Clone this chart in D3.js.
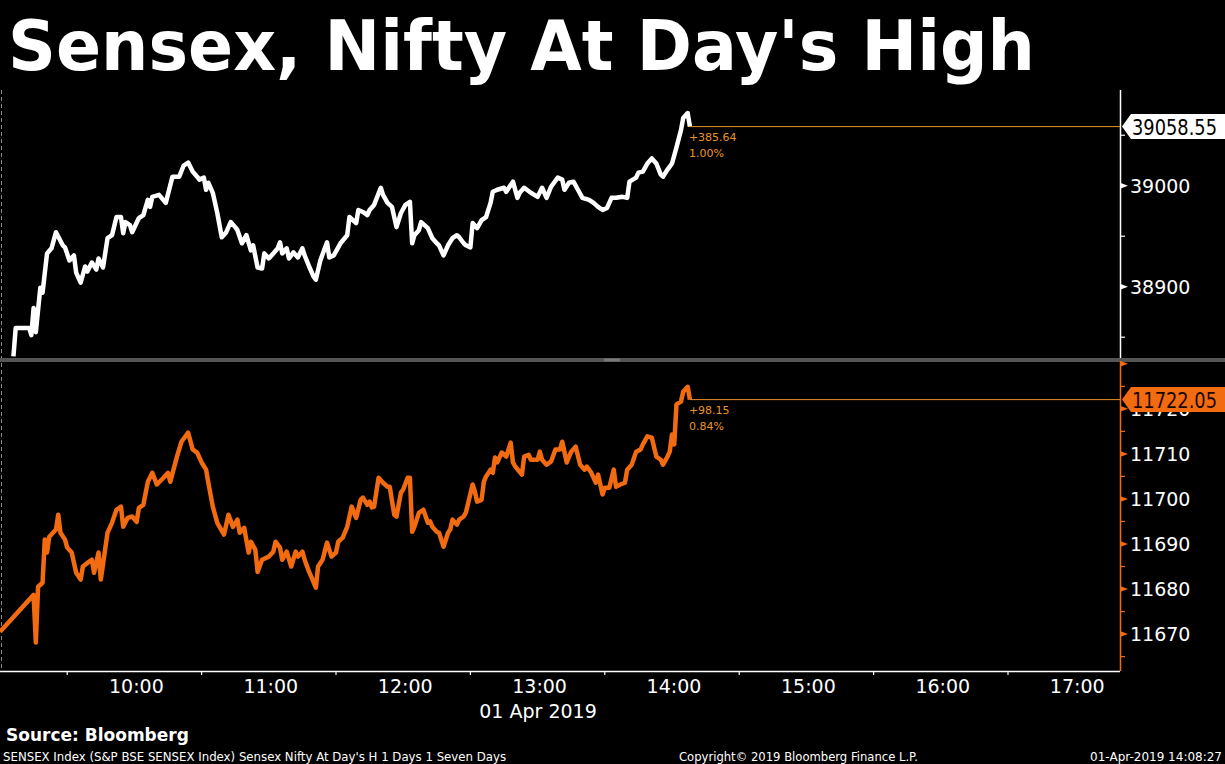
<!DOCTYPE html>
<html>
<head>
<meta charset="utf-8">
<script src="https://cdn.jsdelivr.net/npm/d3@7"></script>
<style>
  body { margin: 0; background: #000; }
  svg { display: block; }
  text { font-family: "DejaVu Sans", Verdana, sans-serif; }
</style>
</head>
<body>
<div id="chart"></div>
<script>
// ---- data: minutes after 09:00 IST, 01 Apr 2019 ----
var sensexMin = [6,7,13,14,15,16,18,19,21,23,25,28,29,31,33,34,36,38,39,41,43,44,46,48,50,52,54,55,56,58,59,62,64,66,67,68,71,74,77,80,82,84,86,88,89,91,92,93,95,97,99,101,103,105,106,108,110,112,113,115,117,118,120,122,124,125,126,128,129,131,133,135,136,138,140,141,143,146,147,149,152,155,156,159,160,162,164,165,167,170,171,173,175,177,179,181,183,184,185,187,188,191,193,195,196,198,200,202,204,205,207,208,210,211,213,215,217,219,220,222,225,226,229,231,232,234,237,240,242,244,246,249,251,252,254,256,258,260,263,265,267,269,271,273,275,278,280,281,284,285,287,289,291,293,295,296,298,300,302,304,305,307,308];
var sensexVal = [38831,38859,38859,38852,38879,38855,38899,38894,38933,38938,38954,38941,38939,38926,38931,38914,38904,38920,38915,38924,38917,38928,38919,38948,38951,38969,38969,38953,38964,38961,38954,38968,38971,38986,38979,38989,38991,38983,39009,39009,39020,39023,39014,39009,39006,39008,38996,39003,38993,38973,38949,38954,38964,38959,38956,38943,38951,38936,38941,38919,38918,38933,38928,38933,38938,38944,38933,38938,38928,38934,38929,38938,38931,38920,38910,38907,38926,38944,38929,38931,38943,38951,38969,38963,38976,38974,38971,38976,38981,38998,38991,38983,38979,38959,38973,38981,38984,38943,38951,38956,38964,38958,38948,38943,38941,38931,38941,38948,38951,38949,38943,38941,38939,38963,38958,38966,38969,38983,38994,38996,38998,38994,39004,38988,38993,38998,38993,38989,38998,38988,38999,39008,39006,38996,39003,39004,38996,38988,38986,38983,38979,38976,38978,38988,38988,38989,38988,39004,39008,39013,39014,39022,39027,39022,39011,39009,39016,39022,39038,39055,39067,39072,39058.55];

var niftyMin = [0,15,16,17,19,20,21,22,25,26,27,29,30,32,34,36,37,39,41,42,44,45,48,50,52,54,55,57,59,61,62,64,66,68,70,73,75,76,79,81,84,86,88,90,92,93,95,97,100,102,104,106,107,109,111,112,114,115,117,120,122,123,125,126,128,130,132,133,135,136,138,139,141,142,144,146,148,150,151,153,155,157,159,161,162,164,165,166,167,169,171,173,174,176,177,179,180,182,183,184,185,187,189,191,192,193,195,196,198,199,200,201,202,204,205,207,208,211,212,213,215,216,217,219,220,221,222,224,226,228,229,230,233,234,236,237,240,241,242,244,246,248,250,251,253,255,257,259,261,262,264,266,267,269,270,272,274,275,277,279,280,282,284,286,287,289,291,293,295,296,298,299,300,301,302,304,305,307,308];
var niftyVal = [11670.5,11678.7,11668.1,11680.5,11681.4,11691,11688.1,11691.6,11693.2,11696.5,11692.5,11691,11689.2,11688.1,11683.6,11682.1,11685,11685.8,11686.5,11683.6,11688.1,11682.1,11692.5,11694.7,11697.6,11698.3,11693.8,11695.8,11696.1,11694.9,11698,11698.7,11703.8,11705.8,11703.2,11704.7,11705.8,11703.8,11709.4,11712.7,11714.7,11711,11710.3,11708.1,11706.5,11703.6,11698.3,11694.7,11692.1,11696.5,11693.8,11695.4,11692.5,11693.6,11688.1,11690.5,11688.7,11683.8,11686.5,11687.2,11688.3,11690.5,11689.2,11686.5,11688.3,11685,11688.3,11687.2,11688.3,11686.5,11683.8,11682.7,11680.3,11685,11686.5,11690.3,11687.2,11688.1,11690.5,11691.4,11693.8,11698.3,11695.8,11699.8,11700.3,11698.7,11699.4,11698.1,11698.3,11704.7,11703.6,11702.7,11702.7,11696.5,11696.1,11701.4,11702.1,11704.7,11704.7,11692.7,11693.8,11696.9,11697.6,11694.7,11695,11693.8,11692.7,11692.5,11689.4,11690.9,11692.5,11693.2,11695.4,11694.3,11695.4,11696.1,11697,11703.2,11701.6,11699.4,11699.8,11703.8,11705,11706.5,11705.8,11709.2,11708.1,11710.3,11709.4,11712.5,11708.1,11707.2,11705.4,11709.4,11709.8,11708.7,11708.7,11710.5,11708.7,11707.6,11708.3,11711,11711,11712.7,11708.1,11710.5,11711.6,11707.6,11706.5,11707.2,11705.8,11703.6,11705.4,11701,11702.5,11702.5,11706.5,11702.7,11703.2,11703.6,11706.5,11707.6,11710.5,11711,11712.1,11713.9,11713.6,11709.4,11708.7,11707.6,11709.4,11710.5,11714.3,11712.1,11721,11721.6,11723.8,11724.9,11722.05];

// last values and change vs previous close
var sensexLast = "39058.55", sensexChg = "+385.64", sensexPct = "1.00%";
var niftyLast = "11722.05", niftyChg = "+98.15", niftyPct = "0.84%";

// axis tick values
var sensexTicks = [38900, 39000, 39100];
var sensexMinor = [38850, 38950, 39050];
var niftyTicks = [11670, 11680, 11690, 11700, 11710, 11720, 11730];
var niftyMinor = [11665, 11675, 11685, 11695, 11705, 11715, 11725];
var hourLabels = [10, 11, 12, 13, 14, 15, 16, 17];

// ---- layout config ----
var W = 1225, H = 764;
var plotRight = 1120;
var top0 = 90, top1 = 358;     // sensex panel
var bot0 = 362, bot1 = 671;    // nifty panel
var orange = "#f26b10";
var amber = "#e8942a";

var base = new Date(2019, 3, 1, 9, 0);
function tm(m) { return new Date(base.getTime() + m * 60000); }

var svg = d3.select("#chart").append("svg")
            .attr("width", W)
            .attr("height", H)
            .style("background", "#000");

var x = d3.scaleTime()
          .domain([tm(0), tm(500)])
          .range([0, plotRight]);

var yTop = d3.scaleLinear()
             .domain([38829.4, 39094.8])
             .range([top1, top0]);

var yBot = d3.scaleLinear()
             .domain([11661.8, 11730.4])
             .range([bot1, bot0]);

// clip each panel
var defs = svg.append("defs");
defs.append("clipPath").attr("id", "clipTop")
    .append("rect").attr("x", 0).attr("y", top0).attr("width", plotRight).attr("height", top1 - top0);
defs.append("clipPath").attr("id", "clipBot")
    .append("rect").attr("x", 0).attr("y", bot0).attr("width", plotRight).attr("height", bot1 - bot0);

// title
svg.append("text")
   .attr("x", 8)
   .attr("y", 70)
   .attr("textLength", 1027)
   .attr("lengthAdjust", "spacingAndGlyphs")
   .style("font-size", "70px")
   .style("font-weight", "bold")
   .style("fill", "#fff")
   .text("Sensex, Nifty At Day's High");

// left dashed edges
svg.append("line")
   .attr("x1", 1.5).attr("x2", 1.5).attr("y1", top0).attr("y2", bot1)
   .style("stroke", "#8a8a8a").style("stroke-width", 1).style("stroke-dasharray", "4,3");

// panel divider
svg.append("rect")
   .attr("x", 0).attr("y", top1).attr("width", W).attr("height", bot0 - top1)
   .style("fill", "#555");
svg.append("line")
   .attr("x1", 604).attr("x2", 620).attr("y1", top1 + 1.2).attr("y2", top1 + 1.2)
   .style("stroke", "#999").style("stroke-width", 0.8);
svg.append("line")
   .attr("x1", 604).attr("x2", 620).attr("y1", top1 + 2.8).attr("y2", top1 + 2.8)
   .style("stroke", "#999").style("stroke-width", 0.8);

/********************************
 * y axis for a panel
 *********************************/
function drawYAxis(scale, y0, y1, majors, minors, color) {
    var g = svg.append("g");
    g.append("line")
     .attr("x1", plotRight + 0.5).attr("x2", plotRight + 0.5)
     .attr("y1", y0).attr("y2", y1)
     .style("stroke", color).style("stroke-width", 1.5);

    var inside = majors.filter(function(d) { var p = scale(d); return p >= y0 && p <= y1; });

    // triangle markers at major ticks
    g.selectAll("path.major")
     .data(inside)
     .enter()
     .append("path")
     .attr("class", "major")
     .attr("d", function(d) {
         var p = scale(d);
         return "M" + plotRight + "," + (p - 3) + "L" + (plotRight + 8) + "," + p + "L" + plotRight + "," + (p + 3) + "Z";
     })
     .style("fill", color);

    g.selectAll("line.minor")
     .data(minors.filter(function(d) { var p = scale(d); return p >= y0 && p <= y1; }))
     .enter()
     .append("line")
     .attr("class", "minor")
     .attr("x1", plotRight).attr("x2", plotRight + 5)
     .attr("y1", function(d) { return scale(d); })
     .attr("y2", function(d) { return scale(d); })
     .style("stroke", color).style("stroke-width", 1.2);

    // labels only where they fit inside the panel
    g.selectAll("text")
     .data(inside.filter(function(d) { return scale(d) > y0 + 12; }))
     .enter()
     .append("text")
     .attr("x", plotRight + 10)
     .attr("y", function(d) { return scale(d) + 7; })
     .style("font-size", "19px")
     .style("fill", "#fff")
     .text(function(d) { return d; });
}

drawYAxis(yTop, top0, top1, sensexTicks, sensexMinor, "#fff");
drawYAxis(yBot, bot0, bot1, niftyTicks, niftyMinor, orange);

// x axis
var xg = svg.append("g");
xg.append("line")
  .attr("x1", 0).attr("x2", plotRight).attr("y1", bot1 + 0.5).attr("y2", bot1 + 0.5)
  .style("stroke", "#fff").style("stroke-width", 1.5);

var halfHours = hourLabels.map(function(h) { return tm((h - 9) * 60 - 30); });
xg.selectAll("line.tick")
  .data(halfHours)
  .enter()
  .append("line")
  .attr("class", "tick")
  .attr("x1", function(d) { return x(d); })
  .attr("x2", function(d) { return x(d); })
  .attr("y1", bot1).attr("y2", bot1 + 4)
  .style("stroke", "#fff").style("stroke-width", 1.2);

var fmt = d3.timeFormat("%H:%M");
xg.selectAll("text.hour")
  .data(hourLabels.map(function(h) { return tm((h - 9) * 60); }))
  .enter()
  .append("text")
  .attr("class", "hour")
  .attr("x", function(d) { return x(d) + 2; })
  .attr("y", 693)
  .attr("text-anchor", "middle")
  .style("font-size", "19px")
  .style("fill", "#fff")
  .text(function(d) { return fmt(d); });

svg.append("text")
   .attr("x", 538).attr("y", 718)
   .attr("text-anchor", "middle")
   .style("font-size", "19px")
   .style("fill", "#fff")
   .text("01 Apr 2019");

// ---- series lines ----
function series(mins, vals) {
    return mins.map(function(m, i) { return { t: tm(m), v: vals[i] }; });
}
var sensexData = series(sensexMin, sensexVal);
var niftyData = series(niftyMin, niftyVal);

var lineTop = d3.line().x(function(d) { return x(d.t); }).y(function(d) { return yTop(d.v); });
var lineBot = d3.line().x(function(d) { return x(d.t); }).y(function(d) { return yBot(d.v); });

/********************************
 * last value marker + change text
 *********************************/
function drawLast(data, scale, boxFill, textFill, lastTxt, chg, pct) {
    var last = data[data.length - 1];
    var lx = x(last.t), ly = scale(last.v);

    svg.append("line")
       .attr("x1", lx).attr("x2", plotRight)
       .attr("y1", ly).attr("y2", ly)
       .style("stroke", amber).style("stroke-width", 1);

    svg.append("text")
       .attr("x", lx - 1).attr("y", ly + 14)
       .style("font-size", "11px").style("fill", amber)
       .text(chg);
    svg.append("text")
       .attr("x", lx - 1).attr("y", ly + 30)
       .style("font-size", "11px").style("fill", amber)
       .text(pct);

    var bx = plotRight + 2, bh = 25;
    svg.append("path")
       .attr("d", "M" + bx + "," + ly +
                  "L" + (bx + 9) + "," + (ly - bh / 2) +
                  "L" + W + "," + (ly - bh / 2) +
                  "L" + W + "," + (ly + bh / 2) +
                  "L" + (bx + 9) + "," + (ly + bh / 2) + "Z")
       .style("fill", boxFill);

    svg.append("text")
       .attr("x", bx + 10).attr("y", ly + 8)
       .attr("textLength", 85)
       .attr("lengthAdjust", "spacingAndGlyphs")
       .style("font-size", "21px")
       .style("fill", textFill)
       .text(lastTxt);
}

svg.append("path")
   .datum(sensexData)
   .attr("clip-path", "url(#clipTop)")
   .attr("d", lineTop)
   .style("fill", "none")
   .style("stroke", "#fff")
   .style("stroke-width", 4.5)
   .style("stroke-linejoin", "round");

svg.append("path")
   .datum(niftyData)
   .attr("clip-path", "url(#clipBot)")
   .attr("d", lineBot)
   .style("fill", "none")
   .style("stroke", orange)
   .style("stroke-width", 4.5)
   .style("stroke-linejoin", "round");

drawLast(sensexData, yTop, "#fff", "#000", sensexLast, sensexChg, sensexPct);
drawLast(niftyData, yBot, orange, "#1a0800", niftyLast, niftyChg, niftyPct);

// ---- footer ----
svg.append("text")
   .attr("x", 6).attr("y", 741)
   .style("font-size", "17px").style("font-weight", "bold").style("fill", "#fff")
   .text("Source: Bloomberg");

svg.append("text")
   .attr("x", 3).attr("y", 761)
   .attr("textLength", 503)
   .attr("lengthAdjust", "spacingAndGlyphs")
   .style("font-size", "12px").style("fill", "#fff")
   .text("SENSEX Index (S&P BSE SENSEX Index) Sensex Nifty At Day's H 1 Days 1 Seven Days");

svg.append("text")
   .attr("x", 679).attr("y", 761)
   .attr("textLength", 239)
   .attr("lengthAdjust", "spacingAndGlyphs")
   .style("font-size", "12px").style("fill", "#fff")
   .text("Copyright\u00a9 2019 Bloomberg Finance L.P.");

svg.append("text")
   .attr("x", 1222).attr("y", 761)
   .attr("text-anchor", "end")
   .style("font-size", "12px").style("fill", "#fff")
   .text("01-Apr-2019 14:08:27");
</script>
</body>
</html>
